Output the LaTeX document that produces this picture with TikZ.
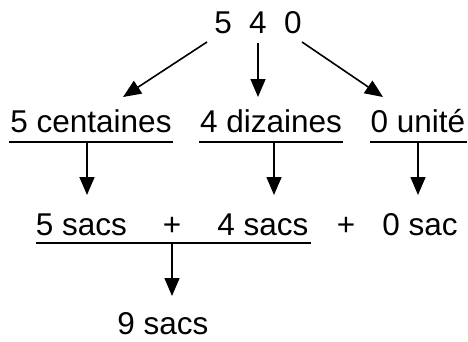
\documentclass[tikz,border=0pt]{standalone}
\usepackage{fontspec}
\setmainfont{Liberation Sans}
\usetikzlibrary{arrows.meta,positioning,calc}
\tikzset{
  word/.style={inner sep=0pt, anchor=base, font=\fontsize{31.5}{36}\selectfont},
  arrow line/.style={line width=1.6pt, -{Triangle[length=18pt,width=15pt]}},
  bar line/.style={line width=1.3pt}
}

\begin{document}
\begin{tikzpicture}[x=1pt,y=-1pt]
  \useasboundingbox (0,0) rectangle (468,341);

  % the number
  \node (number) [word] at (258,33) {5\hspace{0.55em}4\hspace{0.55em}0};

  % splitting into centaines, dizaines, unites
  \node (centaines) [word] at (91,132) {5 centaines};
  \node (dizaines) [word] at (271,132) {4 dizaines};
  \node (unite) [word] at (418,132) {0 unité};

  \coordinate (number_left) at (207,42);
  \coordinate (number_mid) at (258,43);
  \coordinate (number_right) at (302,42);
  \coordinate (centaines_top) at (123,97);
  \coordinate (dizaines_top) at (258,97);
  \coordinate (unite_top) at (383,97);

  \draw[arrow line] (number_left) -- (centaines_top);
  \draw[arrow line] (number_mid) -- (dizaines_top);
  \draw[arrow line] (number_right) -- (unite_top);

  % underlines
  \draw[bar line] (9,142) coordinate (centaines_bar_w) -- (173,142) coordinate (centaines_bar_e);
  \draw[bar line] (199,142) coordinate (dizaines_bar_w) -- (343,142) coordinate (dizaines_bar_e);
  \draw[bar line] (370,142) coordinate (unite_bar_w) -- (467,142) coordinate (unite_bar_e);

  % the bags
  \node (sacs_c) [word] at (81.5,235) {5 sacs};
  \node (plus_a) [word] at (172,235) {+};
  \node (sacs_d) [word] at (263,235) {4 sacs};
  \node (plus_b) [word] at (346,235) {+};
  \node (sacs_u) [word] at (420,235) {0 sac};

  \coordinate (centaines_out) at (87,142);
  \coordinate (dizaines_out) at (274,142);
  \coordinate (unite_out) at (418,142);
  \coordinate (sacs_c_top) at (87,195);
  \coordinate (sacs_d_top) at (274,195);
  \coordinate (sacs_u_top) at (418,195);

  \draw[arrow line] (centaines_out) -- (sacs_c_top);
  \draw[arrow line] (dizaines_out) -- (sacs_d_top);
  \draw[arrow line] (unite_out) -- (sacs_u_top);

  \draw[bar line] (36,243) coordinate (sum_bar_w) -- (311,243) coordinate (sum_bar_e);

  % total
  \node (total) [word] at (163,334) {9 sacs};
  \coordinate (sum_out) at (172,243);
  \coordinate (total_top) at (172,296);
  \draw[arrow line] (sum_out) -- (total_top);
\end{tikzpicture}
\end{document}
